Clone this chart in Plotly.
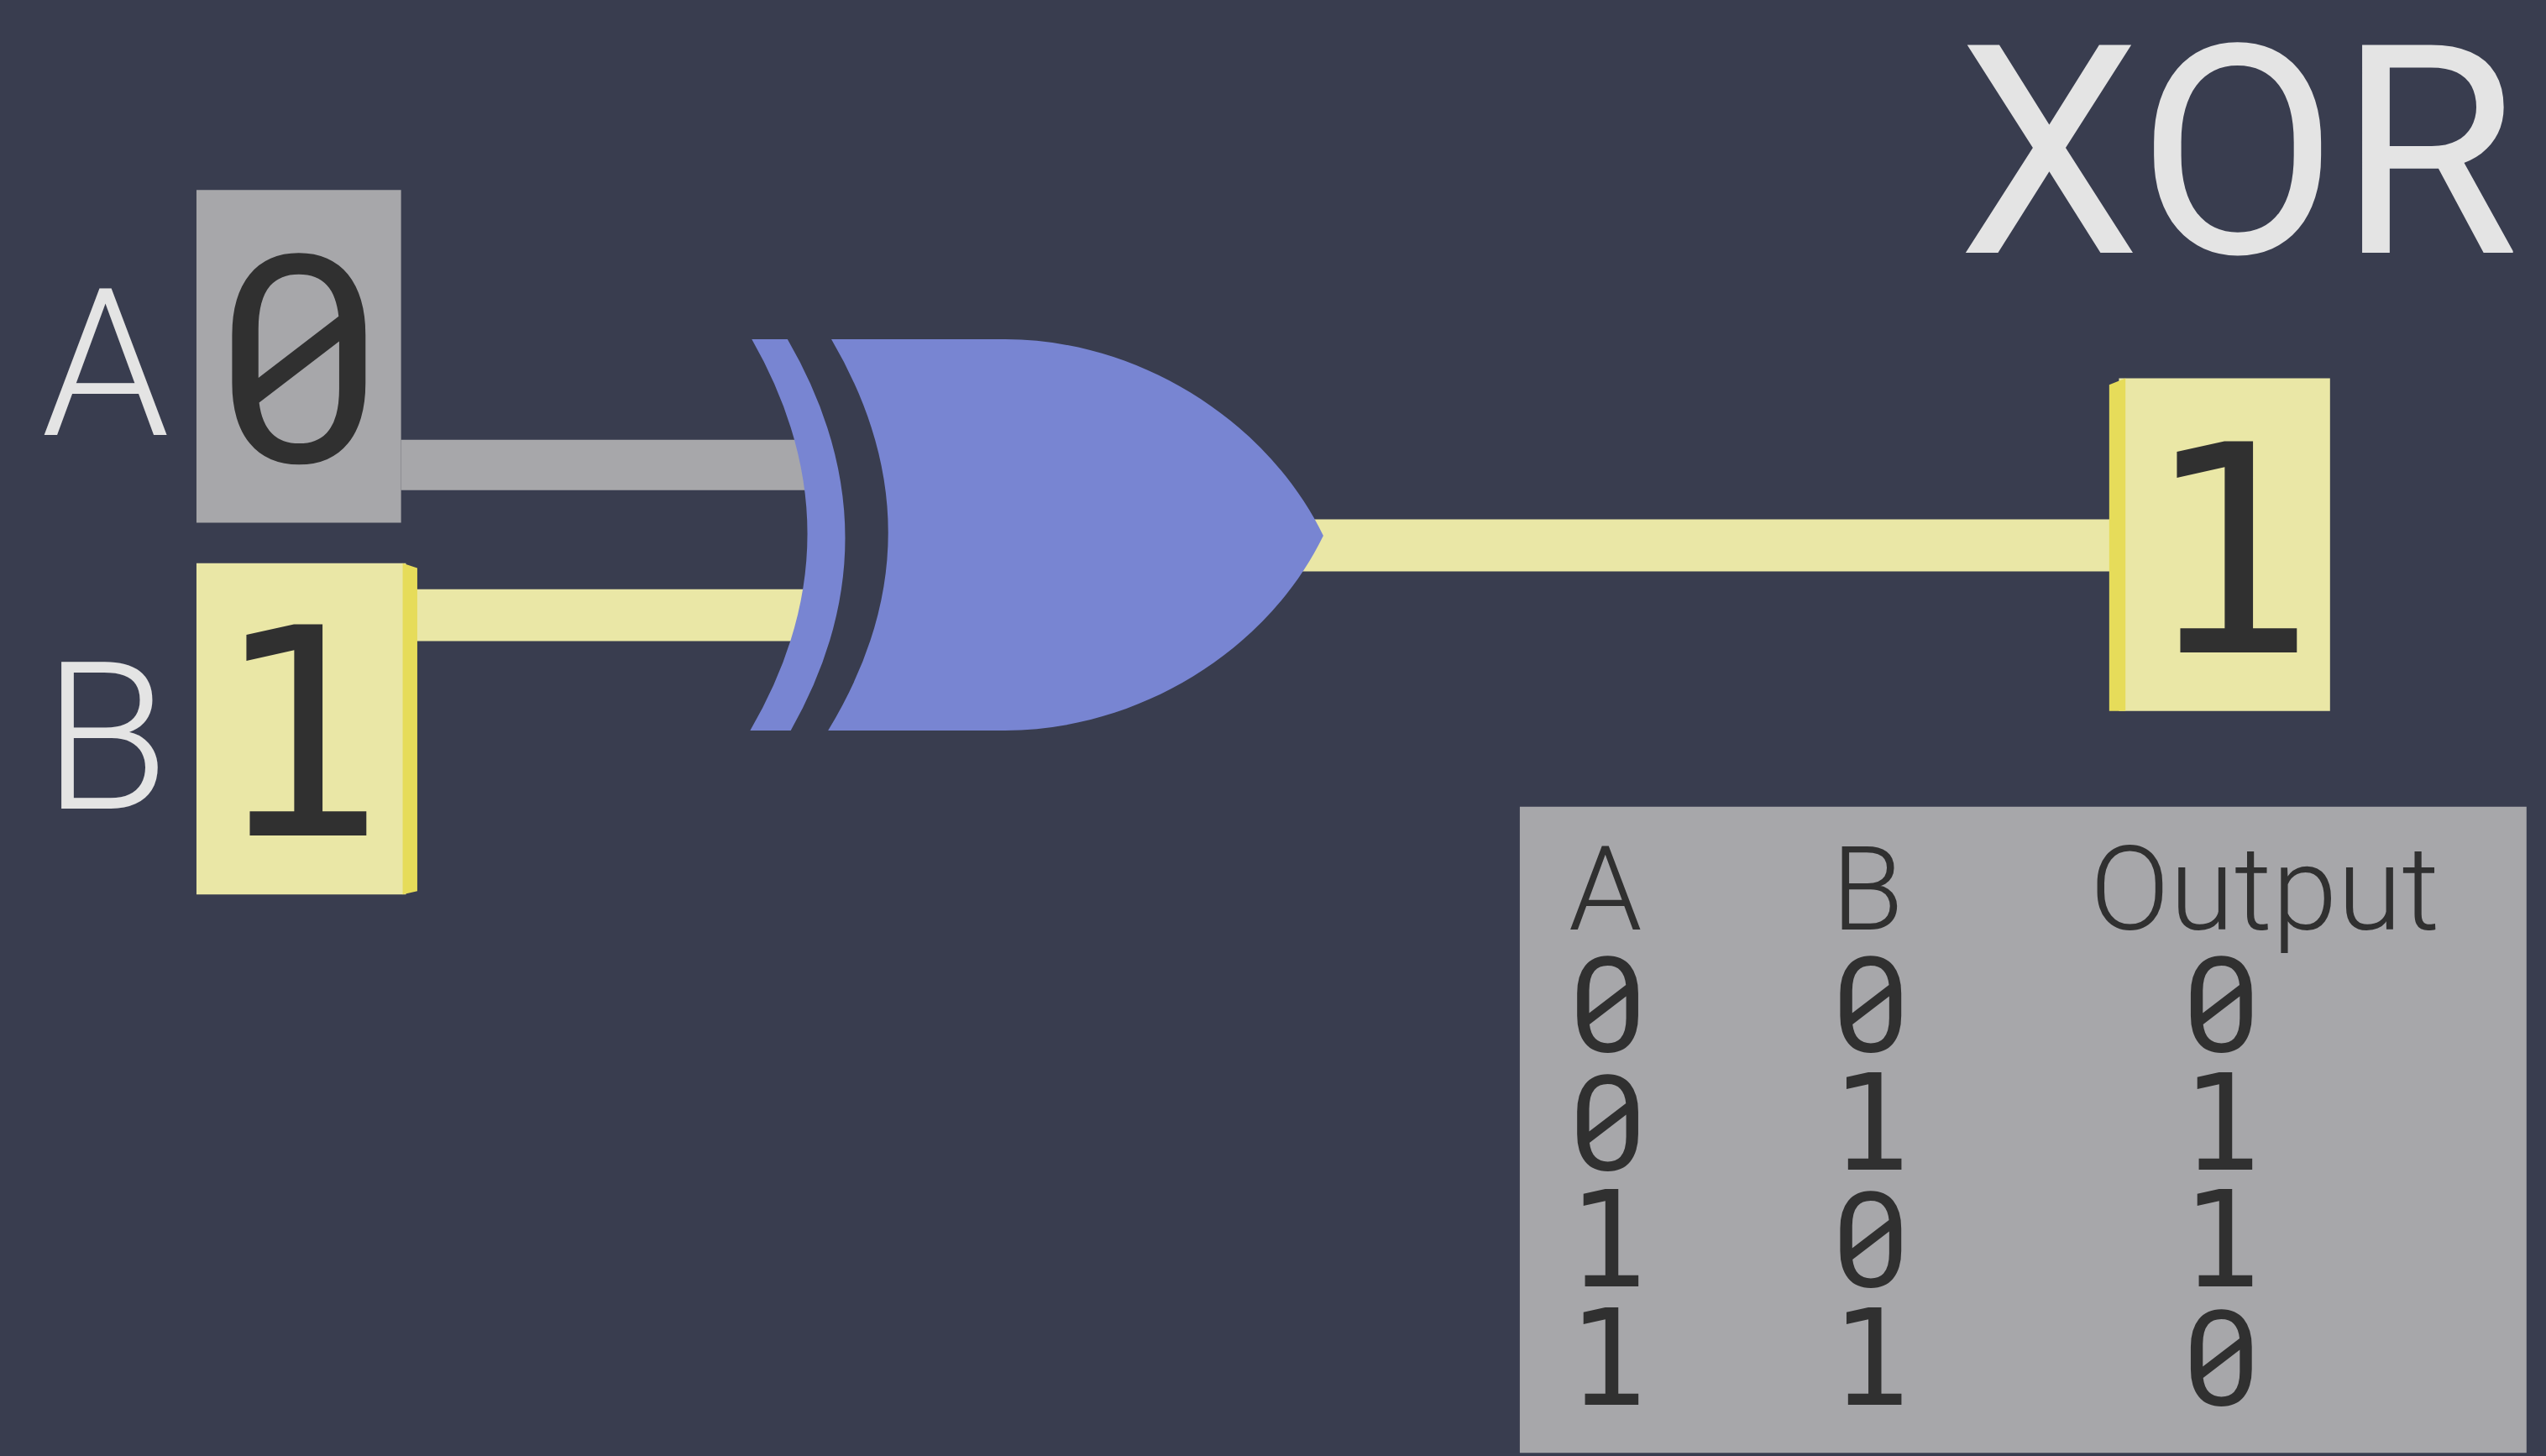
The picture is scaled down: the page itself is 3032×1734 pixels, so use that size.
import plotly.graph_objects as go

# current state shown on the gate
input_names = ["A", "B"]
input_values = [0, 1]
output_value = 1
gate_name = "XOR"

# truth table
table_header = ["A", "B", "Output"]
col_a = [0, 0, 1, 1]
col_b = [0, 1, 0, 1]
col_out = [0, 1, 1, 0]

BG = "#393D4F"
OFF = "#A7A7AA"
ON = "#EAE7A6"
ON_EDGE = "#E6DC5A"
GATE = "#7885D2"
INK = "#303030"
LIGHT = "#E4E4E4"
SANS = "Roboto, Noto Sans, sans-serif"
# slashed zero from Roboto Mono, serif-footed one from DejaVu Sans Mono
DIGIT_FONT = {0: "Roboto Mono, DejaVu Sans Mono, monospace", 1: "DejaVu Sans Mono, monospace"}

W, H = 1568, 897  # drawing units (scaled to the page)

def state_color(v):
    return ON if v == 1 else OFF

fig = go.Figure()

shapes = []
# wires (drawn first so the gate covers their ends)
shapes.append(dict(type="rect", x0=247, x1=502, y0=271, y1=302, fillcolor=state_color(input_values[0]), line_width=0))
shapes.append(dict(type="rect", x0=250, x1=500, y0=363, y1=395, fillcolor=state_color(input_values[1]), line_width=0))
shapes.append(dict(type="rect", x0=800, x1=1305, y0=320, y1=352, fillcolor=state_color(output_value), line_width=0))

# gate: thin back arc + OR body
shapes.append(dict(type="path", path="M 463,209 L 485,209 Q 555,330 487,450 L 462,450 Q 532,330 463,209 Z",
                   fillcolor=GATE, line_width=0))
shapes.append(dict(type="path",
                   path="M 512,209 L 619,209 C 700,209 780,258 815,330 C 780,402 700,450 619,450 L 510,450 Q 583,330 512,209 Z",
                   fillcolor=GATE, line_width=0))

# input boxes
shapes.append(dict(type="rect", x0=121, x1=247, y0=117, y1=322, fillcolor=state_color(input_values[0]), line_width=0))
shapes.append(dict(type="rect", x0=121, x1=250, y0=347, y1=551, fillcolor=state_color(input_values[1]), line_width=0))
shapes.append(dict(type="path", path="M 248,347 L 257,350 L 257,549 L 248,551 Z", fillcolor=ON_EDGE, line_width=0))

# output box
shapes.append(dict(type="rect", x0=1305, x1=1435, y0=233, y1=438, fillcolor=state_color(output_value), line_width=0))
shapes.append(dict(type="path", path="M 1299,237 L 1309,233 L 1309,438 L 1299,438 Z", fillcolor=ON_EDGE, line_width=0))

# truth table panel (below the text traces)
shapes.append(dict(type="rect", x0=936, x1=1556, y0=497, y1=895, fillcolor=OFF, line_width=0, layer="below"))

fig.update_layout(shapes=shapes)

ann = []
# title
ann.append(dict(x=1552, y=94, text=gate_name, xanchor="right",
                font=dict(family=SANS, size=348, color=LIGHT, weight=400)))
# input labels and values
for i, (name, v) in enumerate(zip(input_names, input_values)):
    ann.append(dict(x=65, y=[225, 455][i], text=name, font=dict(family=SANS, size=245, color=LIGHT, weight=300)))
    vy = [215, 445][i] + (8 if v == 1 else 0)
    ann.append(dict(x=184, y=vy, text=str(v), font=dict(family=DIGIT_FONT[v], size=345, color=INK)))
ann.append(dict(x=1373, y=340, text=str(output_value),
                font=dict(family=DIGIT_FONT[output_value], size=345, color=INK)))

# truth table header
header_x = [989, 1150, 1395]
for hx, h in zip(header_x, table_header):
    ann.append(dict(x=hx, y=548, text=h, font=dict(family=SANS, size=140, color=INK, weight=300)))

for a in ann:
    a.setdefault("xanchor", "center")
    a.update(xref="x", yref="y", showarrow=False, yanchor="middle")
fig.update_layout(annotations=ann)

# truth table rows as text traces
col_x = [990, 1152, 1368]
row_y = [627, 700, 772, 845]
for cx, col in zip(col_x, [col_a, col_b, col_out]):
    fig.add_trace(go.Scatter(
        x=[cx] * len(col), y=row_y, text=[str(v) for v in col],
        mode="text", textposition="middle center",
        textfont=dict(family=[DIGIT_FONT[v] for v in col], size=158, color=INK),
        hoverinfo="skip", cliponaxis=False,
    ))

fig.update_xaxes(range=[0, W], visible=False, fixedrange=True)
fig.update_yaxes(range=[H, 0], visible=False, fixedrange=True)
fig.update_layout(
    width=3032, height=1734,
    margin=dict(l=0, r=0, t=0, b=0),
    paper_bgcolor=BG, plot_bgcolor=BG,
    showlegend=False,
)

fig.write_html("out.html", config={"displayModeBar": False},
               post_script="document.body.style.margin='0';document.body.style.background='#393D4F';")
